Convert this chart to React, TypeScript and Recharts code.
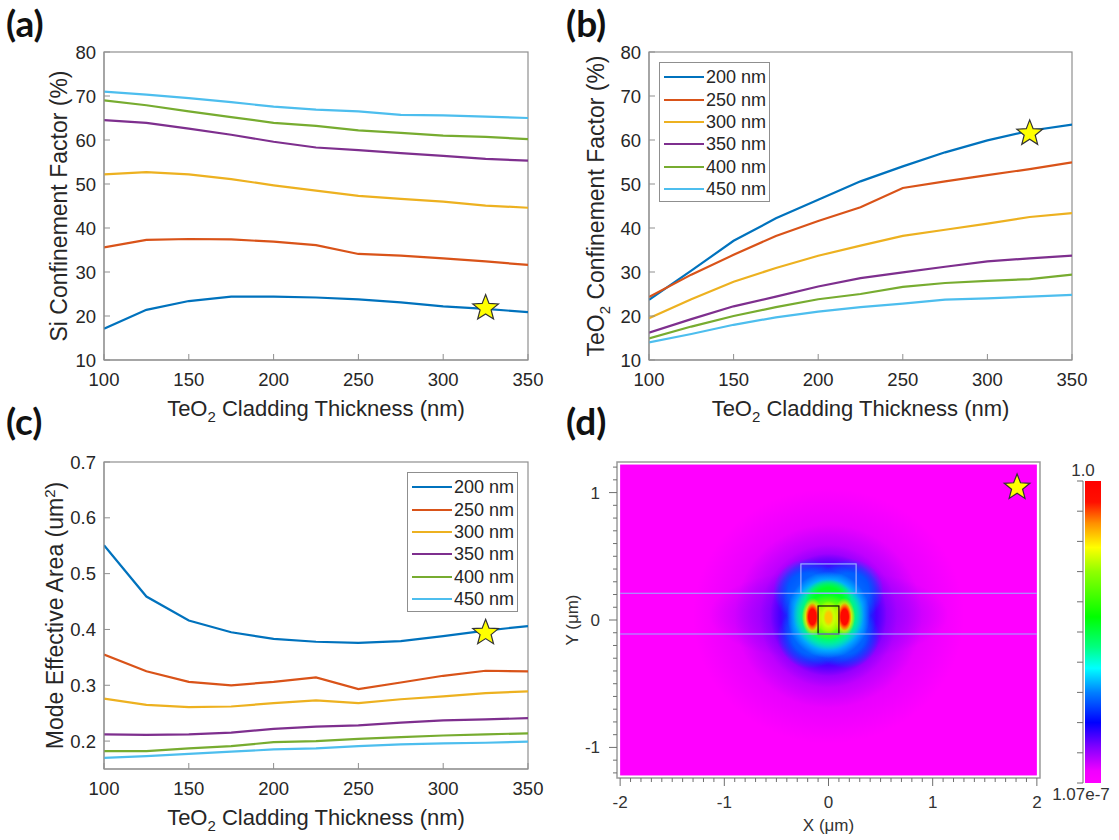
import React from "react";
import {
  LineChart,
  Line,
  XAxis,
  YAxis,
  Legend,
  Label,
  ReferenceDot,
  ScatterChart,
  Scatter,
  ReferenceArea,
  ReferenceLine,
} from "recharts";

// ---- shared sweep ----
const thickness = [100, 125, 150, 175, 200, 225, 250, 275, 300, 325, 350];
const thicknessTicks = [100, 150, 200, 250, 300, 350];
const widthNames = ["200 nm", "250 nm", "300 nm", "350 nm", "400 nm", "450 nm"];

// (a) Si confinement factor (%)
const siConf200 = [17.1, 21.4, 23.4, 24.4, 24.4, 24.2, 23.8, 23.1, 22.2, 21.6, 20.9];
const siConf250 = [35.6, 37.3, 37.5, 37.4, 36.9, 36.1, 34.1, 33.7, 33.1, 32.4, 31.6];
const siConf300 = [52.2, 52.7, 52.2, 51.1, 49.7, 48.5, 47.3, 46.6, 46.0, 45.1, 44.6];
const siConf350 = [64.5, 63.9, 62.6, 61.2, 59.6, 58.3, 57.7, 57.0, 56.4, 55.7, 55.3];
const siConf400 = [69.0, 67.9, 66.5, 65.2, 63.9, 63.2, 62.2, 61.6, 61.0, 60.7, 60.2];
const siConf450 = [71.0, 70.3, 69.5, 68.6, 67.6, 66.9, 66.5, 65.7, 65.6, 65.3, 65.0];

// (b) TeO2 confinement factor (%)
const teoConf200 = [23.7, 30.3, 37.1, 42.2, 46.4, 50.6, 54.0, 57.2, 59.9, 62.1, 63.5];
const teoConf250 = [24.3, 29.4, 33.9, 38.2, 41.6, 44.7, 49.1, 50.6, 52.0, 53.4, 54.9];
const teoConf300 = [19.5, 23.8, 27.8, 30.9, 33.7, 36.0, 38.2, 39.6, 41.0, 42.5, 43.4];
const teoConf350 = [16.2, 19.3, 22.2, 24.4, 26.7, 28.6, 29.9, 31.2, 32.4, 33.1, 33.7];
const teoConf400 = [14.9, 17.6, 20.0, 22.0, 23.8, 25.0, 26.6, 27.5, 28.0, 28.4, 29.4];
const teoConf450 = [14.0, 15.9, 18.0, 19.7, 21.0, 22.0, 22.8, 23.7, 24.0, 24.4, 24.8];

// (c) mode effective area (um^2)
const aeff200 = [0.551, 0.459, 0.416, 0.395, 0.383, 0.378, 0.376, 0.379, 0.388, 0.398, 0.406];
const aeff250 = [0.355, 0.325, 0.306, 0.3, 0.306, 0.314, 0.293, 0.305, 0.317, 0.326, 0.325];
const aeff300 = [0.276, 0.265, 0.261, 0.262, 0.268, 0.273, 0.268, 0.275, 0.28, 0.286, 0.289];
const aeff350 = [0.212, 0.211, 0.212, 0.215, 0.222, 0.226, 0.228, 0.233, 0.237, 0.239, 0.241];
const aeff400 = [0.182, 0.182, 0.187, 0.191, 0.198, 0.2, 0.204, 0.207, 0.21, 0.212, 0.214];
const aeff450 = [0.17, 0.173, 0.177, 0.181, 0.185, 0.187, 0.191, 0.194, 0.196, 0.197, 0.199];

// chosen design point (325 nm cladding, 200 nm width)
const starA = { x: 325, y: 21.8 };
const starB = { x: 325, y: 61.5 };
const starC = { x: 325, y: 0.394 };
const starD = [{ x: 1.81, y: 1.04 }];

// (d) mode profile: intensity levels (0..1) of nested lobes, in um
const fieldLayers = [
  { x: 0, y: 0.03, rx: 1.3, ry: 1.0, level: 0.07 },
  { x: 0, y: 0.04, rx: 1.15, ry: 0.36, level: 0.1 },
  { x: 0, y: 0.03, rx: 0.9, ry: 0.72, level: 0.12 },
  { x: 0, y: 0.03, rx: 0.66, ry: 0.56, level: 0.16 },
  { x: 0, y: 0.04, rx: 0.56, ry: 0.48, level: 0.2 },
  { x: -0.21, y: 0.23, rx: 0.32, ry: 0.25, level: 0.27 },
  { x: 0.21, y: 0.23, rx: 0.32, ry: 0.25, level: 0.27 },
  { x: -0.17, y: -0.13, rx: 0.32, ry: 0.25, level: 0.27 },
  { x: 0.17, y: -0.13, rx: 0.32, ry: 0.25, level: 0.27 },
  { x: 0, y: 0.04, rx: 0.46, ry: 0.4, level: 0.3 },
  { x: 0, y: 0.04, rx: 0.4, ry: 0.34, level: 0.38 },
  { x: 0, y: 0.04, rx: 0.34, ry: 0.28, level: 0.52 },
  { x: 0, y: 0.17, rx: 0.22, ry: 0.15, level: 0.52 },
  { x: 0, y: 0.02, rx: 0.26, ry: 0.18, level: 0.68 },
  { x: -0.155, y: 0.025, rx: 0.1, ry: 0.15, level: 0.8 },
  { x: 0.155, y: 0.025, rx: 0.1, ry: 0.15, level: 0.8 },
  { x: -0.155, y: 0.025, rx: 0.066, ry: 0.11, level: 0.97 },
  { x: 0.155, y: 0.025, rx: 0.066, ry: 0.11, level: 0.97 },
  { x: 0, y: 0.02, rx: 0.11, ry: 0.13, level: 0.74 },
  { x: 0, y: 0.02, rx: 0.05, ry: 0.07, level: 0.82 },
];
// waveguide geometry (um)
const core = { x1: -0.1, x2: 0.1, y1: -0.11, y2: 0.11 };
const ridge = { x1: -0.265, x2: 0.265, y1: 0.21, y2: 0.44 };
const layerEdges = [0.21, -0.11];
const fieldExtent = { x: 2, y: 1.22 };
const xMajor = [-2, -1, 0, 1, 2];
const yMajor = [-1, 0, 1];
const xMinor = Array.from({ length: 41 }, (_, i) => (i - 20) / 10);
const yMinor = Array.from({ length: 25 }, (_, i) => (i - 12) / 10);

// rainbow colour map, low -> high
const colorStops: [number, string][] = [
  [0, "#ff00ff"],
  [0.04, "#f000ff"],
  [0.12, "#8000ff"],
  [0.2, "#0000ff"],
  [0.3, "#0080ff"],
  [0.38, "#00ffff"],
  [0.45, "#00ff80"],
  [0.55, "#00ff00"],
  [0.7, "#90ff00"],
  [0.78, "#ffff00"],
  [0.86, "#ff9000"],
  [0.93, "#ff1000"],
  [1, "#ff0000"],
];

const COLORS = ["#0072BD", "#D95319", "#EDB120", "#7E2F8E", "#77AC30", "#4DBEEE"];
const FRAME = "#8f8f8f";
const INK = "#262626";
const FONT = "'Liberation Sans', Arial, sans-serif";
const OUTLINE = "#98b0ff";

const hexToRgb = (h: string) => [1, 3, 5].map((i) => parseInt(h.slice(i, i + 2), 16));

const levelColor = (t: number) => {
  for (let i = 1; i < colorStops.length; i++) {
    const [t1, c1] = colorStops[i];
    if (t <= t1) {
      const [t0, c0] = colorStops[i - 1];
      const f = (t - t0) / (t1 - t0);
      const a = hexToRgb(c0);
      const b = hexToRgb(c1);
      return `rgb(${a.map((v, k) => Math.round(v + (b[k] - v) * f)).join(",")})`;
    }
  }
  return colorStops[colorStops.length - 1][1];
};

const toRows = (series: number[][]) =>
  thickness.map((t, i) => {
    const row: Record<string, number> = { t };
    series.forEach((s, k) => (row[`w${k}`] = s[i]));
    return row;
  });

const rowsA = toRows([siConf200, siConf250, siConf300, siConf350, siConf400, siConf450]);
const rowsB = toRows([teoConf200, teoConf250, teoConf300, teoConf350, teoConf400, teoConf450]);
const rowsC = toRows([aeff200, aeff250, aeff300, aeff350, aeff400, aeff450]);

const Star = (props: any) => {
  const { cx, cy } = props;
  if (cx == null || cy == null) return null;
  const pts: string[] = [];
  for (let i = 0; i < 10; i++) {
    const r = i % 2 === 0 ? 13.5 : 5.8;
    const a = -Math.PI / 2 + (i * Math.PI) / 5;
    pts.push(`${cx + r * Math.cos(a)},${cy + r * Math.sin(a)}`);
  }
  return <polygon points={pts.join(" ")} fill="#ffff00" stroke="#333" strokeWidth={1.2} />;
};

const LegendBox = ({ payload }: any) => (
  <div style={{ border: `1px solid ${FRAME}`, background: "#fff", padding: "3px 3px 1px 4px", fontFamily: FONT }}>
    {(payload || []).map((p: any) => (
      <div key={p.value} style={{ display: "flex", alignItems: "center", height: 22.4 }}>
        <span style={{ display: "inline-block", width: 40, height: 2, background: p.color, marginRight: 2 }} />
        <span style={{ fontSize: 18, color: INK, lineHeight: "22px" }}>{p.value}</span>
      </div>
    ))}
  </div>
);

const BoxFrame = (props: any) => {
  const { x, y, width, height } = props;
  if (x == null) return null;
  return <rect x={x} y={y} width={width} height={height} fill="none" stroke={FRAME} strokeWidth={1.2} />;
};

const xTitle = (props: any) => {
  const { x, y, width } = props.viewBox;
  return (
    <text x={x + width / 2} y={y + 56} textAnchor="middle" fontSize={22} fill={INK} fontFamily={FONT}>
      TeO<tspan dy={6} fontSize={15}>2</tspan>
      <tspan dy={-6}> Cladding Thickness (nm)</tspan>
    </text>
  );
};

const yTitle = (dx: number, body: React.ReactNode) => (props: any) => {
  const { x, y, height } = props.viewBox;
  const cx = x + dx;
  const cy = y + height / 2;
  return (
    <text
      x={cx}
      y={cy}
      dy="0.35em"
      textAnchor="middle"
      transform={`rotate(-90, ${cx}, ${cy})`}
      fontSize={23}
      fill={INK}
      fontFamily={FONT}
    >
      {body}
    </text>
  );
};

type PanelProps = {
  rows: Record<string, number>[];
  width: number;
  margin: { top: number; right: number; bottom: number; left: number };
  yDomain: [number, number];
  yTicks: number[];
  yFormat?: (v: number) => string;
  title: (props: any) => React.ReactNode;
  legendAt?: { left: number; top: number };
  star: { x: number; y: number };
};

const CurvePanel = ({ rows, width, margin, yDomain, yTicks, yFormat, title, legendAt, star }: PanelProps) => (
  <LineChart width={width} height={440} data={rows} margin={margin} style={{ fontFamily: FONT }}>
    <XAxis
      dataKey="t"
      type="number"
      domain={[100, 350]}
      ticks={thicknessTicks}
      interval={0}
      allowDataOverflow
      stroke={FRAME}
      tickSize={-6}
      tickMargin={19}
      tick={{ fill: INK, fontSize: 18.5 }}
      height={30}
    >
      <Label content={xTitle} />
    </XAxis>
    <XAxis
      xAxisId="top"
      orientation="top"
      type="number"
      domain={[100, 350]}
      ticks={thicknessTicks}
      interval={0}
      allowDataOverflow
      stroke={FRAME}
      tickSize={-6}
      tick={false}
      height={0}
    />
    <YAxis
      type="number"
      domain={yDomain}
      ticks={yTicks}
      interval={0}
      allowDataOverflow
      stroke={FRAME}
      tickSize={-6}
      tickMargin={14}
      tick={{ fill: INK, fontSize: 18.5 }}
      tickFormatter={yFormat}
      width={60}
    >
      <Label content={title} />
    </YAxis>
    <YAxis
      yAxisId="right"
      orientation="right"
      type="number"
      domain={yDomain}
      ticks={yTicks}
      interval={0}
      allowDataOverflow
      stroke={FRAME}
      tickSize={-6}
      tick={false}
      width={0}
    />
    <ReferenceArea x1={100} x2={350} y1={yDomain[0]} y2={yDomain[1]} ifOverflow="visible" shape={<BoxFrame />} />
    {widthNames.map((name, k) => (
      <Line
        key={name}
        dataKey={`w${k}`}
        name={name}
        stroke={COLORS[k]}
        strokeWidth={2.2}
        dot={false}
        type="linear"
        isAnimationActive={false}
      />
    ))}
    <ReferenceDot x={star.x} y={star.y} shape={Star} ifOverflow="visible" />
    {legendAt && (
      <Legend
        layout="vertical"
        align="center"
        verticalAlign="middle"
        content={LegendBox}
        wrapperStyle={{ left: legendAt.left, top: legendAt.top, width: "auto" }}
      />
    )}
  </LineChart>
);

const FieldBlob = (props: any) => {
  const { x, y, width, height, gid, color, plateau } = props;
  if (x == null) return null;
  return (
    <g>
      <defs>
        <radialGradient id={gid} cx="50%" cy="50%" r="50%">
          <stop offset="0%" stopColor={color} stopOpacity={1} />
          <stop offset={`${plateau * 100}%`} stopColor={color} stopOpacity={1} />
          <stop offset="100%" stopColor={color} stopOpacity={0} />
        </radialGradient>
      </defs>
      <ellipse cx={x + width / 2} cy={y + height / 2} rx={width / 2} ry={height / 2} fill={`url(#${gid})`} />
    </g>
  );
};

const PlainRect = (props: any) => {
  const { x, y, width, height, fillColor, strokeColor, lineWidth } = props;
  if (x == null) return null;
  return <rect x={x} y={y} width={width} height={height} fill={fillColor} stroke={strokeColor} strokeWidth={lineWidth} />;
};

const FieldXTick = (props: any) => {
  const { x, y, payload } = props;
  const major = xMajor.includes(payload.value);
  return (
    <g>
      <line x1={x} x2={x} y1={y} y2={y + (major ? 8 : 4)} stroke="#6f6f6f" strokeWidth={1} />
      {major && (
        <text x={x} y={y + 30} textAnchor="middle" fontSize={17} fill="#333" fontFamily={FONT}>
          {payload.value}
        </text>
      )}
    </g>
  );
};

const FieldYTick = (props: any) => {
  const { x, y, payload } = props;
  const major = yMajor.includes(payload.value);
  return (
    <g>
      <line x1={x - (major ? 8 : 4)} x2={x} y1={y} y2={y} stroke="#6f6f6f" strokeWidth={1} />
      {major && (
        <text x={x - 17} y={y + 6} textAnchor="end" fontSize={17} fill="#333" fontFamily={FONT}>
          {payload.value}
        </text>
      )}
    </g>
  );
};

const ModePanel = () => (
  <ScatterChart width={559} height={420} margin={{ top: 42, right: 79, bottom: 0, left: 0 }}>
    <XAxis
      dataKey="x"
      type="number"
      domain={[-2.03, 2.03]}
      ticks={xMinor}
      interval={0}
      allowDataOverflow
      axisLine={false}
      tickLine={false}
      tickSize={0}
      tickMargin={0}
      tick={<FieldXTick />}
      height={62}
    >
      <Label
        content={(p: any) => (
          <text
            x={p.viewBox.x + p.viewBox.width / 2}
            y={p.viewBox.y + 53}
            textAnchor="middle"
            fontSize={17}
            fill="#333"
            fontFamily={FONT}
          >
            X (μm)
          </text>
        )}
      />
    </XAxis>
    <YAxis
      dataKey="y"
      type="number"
      domain={[-1.24, 1.24]}
      ticks={yMinor}
      interval={0}
      allowDataOverflow
      axisLine={false}
      tickLine={false}
      tickSize={0}
      tickMargin={0}
      tick={<FieldYTick />}
      width={57}
    >
      <Label
        content={(p: any) => {
          const cx = p.viewBox.x + 12;
          const cy = p.viewBox.y + p.viewBox.height / 2;
          return (
            <text
              x={cx}
              y={cy}
              dy="0.35em"
              textAnchor="middle"
              transform={`rotate(-90, ${cx}, ${cy})`}
              fontSize={17}
              fill="#333"
              fontFamily={FONT}
            >
              Y (μm)
            </text>
          );
        }}
      />
    </YAxis>
    <ReferenceArea
      x1={-2.03}
      x2={2.03}
      y1={-1.24}
      y2={1.24}
      ifOverflow="visible"
      shape={<PlainRect fillColor="#fff" strokeColor="#9a9a9a" lineWidth={1.5} />}
    />
    <ReferenceArea
      x1={-fieldExtent.x}
      x2={fieldExtent.x}
      y1={-fieldExtent.y}
      y2={fieldExtent.y}
      shape={<PlainRect fillColor={levelColor(0)} strokeColor="none" lineWidth={0} />}
    />
    {fieldLayers.map((l, i) => (
      <ReferenceArea
        key={`lobe-${i}`}
        x1={l.x - l.rx}
        x2={l.x + l.rx}
        y1={l.y - l.ry}
        y2={l.y + l.ry}
        shape={<FieldBlob gid={`lobe-${i}`} color={levelColor(l.level)} plateau={l.rx > 0.6 ? 0.25 : 0.55} />}
      />
    ))}
    {layerEdges.map((ly) => (
      <ReferenceLine
        key={ly}
        segment={[
          { x: -fieldExtent.x, y: ly },
          { x: fieldExtent.x, y: ly },
        ]}
        stroke={OUTLINE}
        strokeWidth={1.2}
      />
    ))}
    <ReferenceArea
      x1={ridge.x1}
      x2={ridge.x2}
      y1={ridge.y1}
      y2={ridge.y2}
      shape={<PlainRect fillColor="none" strokeColor={OUTLINE} lineWidth={1.2} />}
    />
    <ReferenceArea
      x1={core.x1}
      x2={core.x2}
      y1={core.y1}
      y2={core.y2}
      shape={<PlainRect fillColor="none" strokeColor="#111" lineWidth={1.2} />}
    />
    <Scatter data={starD} shape={Star} isAnimationActive={false} />
  </ScatterChart>
);

const ColorBar = () => {
  const top = 21;
  const bottom = 323;
  const barX = 45;
  const lineX = 43;
  return (
    <svg width={79} height={345} style={{ position: "absolute", left: 1040, top: 460 }}>
      <defs>
        <linearGradient id="rainbow" x1="0" y1="1" x2="0" y2="0">
          {colorStops.map(([t, c]) => (
            <stop key={t} offset={`${t * 100}%`} stopColor={c} />
          ))}
        </linearGradient>
      </defs>
      <rect x={barX} y={top} width={16} height={bottom - top} fill="url(#rainbow)" />
      <line x1={lineX} x2={lineX} y1={top} y2={bottom} stroke="#6f6f6f" />
      {Array.from({ length: 11 }, (_, i) => top + ((bottom - top) * i) / 10).map((ty) => (
        <line key={ty} x1={lineX - 6} x2={lineX} y1={ty} y2={ty} stroke="#6f6f6f" />
      ))}
      <text x={43} y={16} textAnchor="middle" fontSize={17} fill="#333" fontFamily={FONT}>
        1.0
      </text>
      <text x={41} y={340} textAnchor="middle" fontSize={17} fill="#333" fontFamily={FONT}>
        1.07e-7
      </text>
    </svg>
  );
};

const panelLetter = (text: string, left: number, top: number) => (
  <div
    style={{
      position: "absolute",
      left,
      top,
      fontFamily: "Lato, 'Open Sans', sans-serif",
      fontWeight: 700,
      fontSize: 37,
      lineHeight: 1,
      color: "#111",
    }}
  >
    {text}
  </div>
);

export default function App() {
  return (
    <div style={{ position: "absolute", left: 0, top: 0, width: 1119, height: 840, background: "#fff" }}>
      <div style={{ position: "absolute", left: 0, top: 0 }}>
        <CurvePanel
          rows={rowsA}
          width={560}
          margin={{ top: 52, right: 32, bottom: 50, left: 44 }}
          yDomain={[10, 80]}
          yTicks={[10, 20, 30, 40, 50, 60, 70, 80]}
          title={yTitle(15, "Si Confinement Factor (%)")}
          star={starA}
        />
      </div>
      <div style={{ position: "absolute", left: 560, top: 0 }}>
        <CurvePanel
          rows={rowsB}
          width={559}
          margin={{ top: 52, right: 47, bottom: 50, left: 29 }}
          yDomain={[10, 80]}
          yTicks={[10, 20, 30, 40, 50, 60, 70, 80]}
          title={yTitle(
            7,
            <>
              TeO<tspan dy={6} fontSize={15}>2</tspan>
              <tspan dy={-6}> Confinement Factor (%)</tspan>
            </>
          )}
          legendAt={{ left: 99, top: 62 }}
          star={starB}
        />
      </div>
      <div style={{ position: "absolute", left: 0, top: 420 }}>
        <CurvePanel
          rows={rowsC}
          width={560}
          margin={{ top: 42, right: 32, bottom: 61, left: 44 }}
          yDomain={[0.15, 0.7]}
          yTicks={[0.2, 0.3, 0.4, 0.5, 0.6, 0.7]}
          yFormat={(v) => v.toFixed(1)}
          title={yTitle(
            11,
            <>
              Mode Effective Area (um<tspan dy={-8} fontSize={15}>2</tspan>
              <tspan dy={8}>)</tspan>
            </>
          )}
          legendAt={{ left: 407, top: 52 }}
          star={starC}
        />
      </div>
      <div style={{ position: "absolute", left: 560, top: 420 }}>
        <ModePanel />
      </div>
      <ColorBar />
      {panelLetter("(a)", 6, 4)}
      {panelLetter("(b)", 566, 4)}
      {panelLetter("(c)", 6, 402)}
      {panelLetter("(d)", 566, 402)}
    </div>
  );
}
